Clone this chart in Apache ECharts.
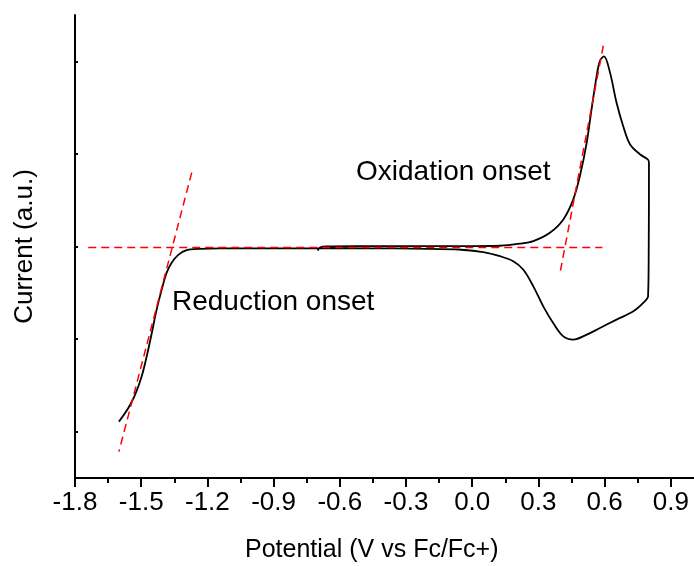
<!DOCTYPE html>
<html>
<head>
<meta charset="utf-8">
<script src="https://cdn.jsdelivr.net/npm/echarts@6/dist/echarts.min.js"></script>
<style>
  html, body { margin: 0; padding: 0; background: #fff; }
  #chart { width: 694px; height: 566px; }
</style>
</head>
<body>
<div id="chart"></div>
<script>
// Cyclic voltammogram: potential (V vs Fc/Fc+) and current (arbitrary units)
const potential = [
  -0.70, -0.69, -0.66, -0.50, -0.30, -0.10, 0.00, 0.126, 0.216, 0.277, 0.352, 0.413,
  0.458, 0.488, 0.519, 0.541, 0.564, 0.579, 0.597, 0.624, 0.654, 0.684, 0.715,
  0.760, 0.798, 0.801, 0.800, 0.797, 0.775, 0.730, 0.654, 0.579, 0.519, 0.458,
  0.413, 0.367, 0.322, 0.277, 0.231, 0.186, 0.126, 0.05, -0.05, -0.20, -0.50,
  -0.80, -1.00, -1.143, -1.234, -1.294, -1.332, -1.362, -1.385, -1.407, -1.430,
  -1.452, -1.475, -1.498, -1.528, -1.559, -1.601
];
const current = [
  -0.045, -0.012, 0.000, 0.003, 0.004, 0.004, 0.004, 0.008, 0.030, 0.058, 0.148, 0.292,
  0.509, 0.761, 1.122, 1.483, 1.843, 2.005, 2.053, 1.883, 1.555, 1.302, 1.104,
  0.996, 0.934, 0.900, 0.000, -0.538, -0.609, -0.700, -0.790, -0.880, -0.952, -1.006,
  -0.971, -0.826, -0.646, -0.430, -0.249, -0.159, -0.105, -0.060, -0.035, -0.025, -0.020,
  -0.020, -0.020, -0.020, -0.025, -0.040, -0.090, -0.176, -0.285, -0.465, -0.682,
  -0.934, -1.187, -1.404, -1.602, -1.746, -1.891
];

// Onset construction lines: baseline and the two tangents
const baseX = [-1.74, 0.59];
const baseY = [-0.012, -0.012];
const redTanX = [-1.271, -1.601];
const redTanY = [0.798, -2.215];
const oxTanX = [0.594, 0.398];
const oxTanY = [2.168, -0.285];

const xTicks = { min: -1.8, max: 1.2, step: 0.3 };
const yTickValues = [-2, -1, 0, 1, 2];

const zip = (xs, ys) => xs.map((x, i) => [x, ys[i]]);
const FONT = '"Liberation Sans", Arial, sans-serif';

const chart = echarts.init(document.getElementById('chart'));
const dashed = { color: '#ff0000', width: 1.5, type: [8, 5] };

chart.setOption({
  animation: false,
  backgroundColor: '#fff',
  grid: { left: 75, top: 15, width: 662, height: 463, outerBoundsMode: 'none', containLabel: false },
  xAxis: {
    type: 'value',
    min: xTicks.min,
    max: xTicks.max,
    interval: xTicks.step,
    axisLine: { onZero: false, lineStyle: { color: '#000', width: 2 } },
    axisTick: { inside: false, length: 9, lineStyle: { color: '#000', width: 2 } },
    minorTick: { show: true, splitNumber: 2, length: 5, lineStyle: { color: '#000', width: 2 } },
    splitLine: { show: false },
    axisLabel: {
      margin: 12,
      color: '#000',
      fontSize: 26,
      fontFamily: FONT,
      showMaxLabel: false,
      formatter: v => v.toFixed(1)
    }
  },
  yAxis: {
    type: 'value',
    min: -2.5,
    max: 2.5,
    name: 'Current (a.u.)',
    nameLocation: 'middle',
    nameGap: 37,
    nameTextStyle: { color: '#000', fontSize: 26, fontFamily: FONT },
    axisLine: { show: true, onZero: false, lineStyle: { color: '#000', width: 2 } },
    axisTick: { show: true, inside: true, length: 3, customValues: yTickValues,
                lineStyle: { color: '#000', width: 2 } },
    axisLabel: { show: false },
    splitLine: { show: false }
  },
  series: [
    {
      type: 'line',
      data: zip(potential, current),
      smooth: 0.35,
      showSymbol: false,
      lineStyle: { color: '#000', width: 1.8 }
    },
    { type: 'line', data: zip(baseX, baseY), showSymbol: false, lineStyle: dashed },
    { type: 'line', data: zip(redTanX, redTanY), showSymbol: false, lineStyle: dashed },
    { type: 'line', data: zip(oxTanX, oxTanY), showSymbol: false, lineStyle: dashed }
  ],
  graphic: [
    {
      type: 'text', left: 356, top: 158,
      style: { text: 'Oxidation onset', fill: '#000', fontSize: 28, fontFamily: FONT }
    },
    {
      type: 'text', left: 172, top: 288,
      style: { text: 'Reduction onset', fill: '#000', fontSize: 28, fontFamily: FONT }
    },
    {
      type: 'text', left: 245, top: 538,
      style: { text: 'Potential (V vs Fc/Fc+)', fill: '#000', fontSize: 25, fontFamily: FONT }
    }
  ]
});
</script>
</body>
</html>
